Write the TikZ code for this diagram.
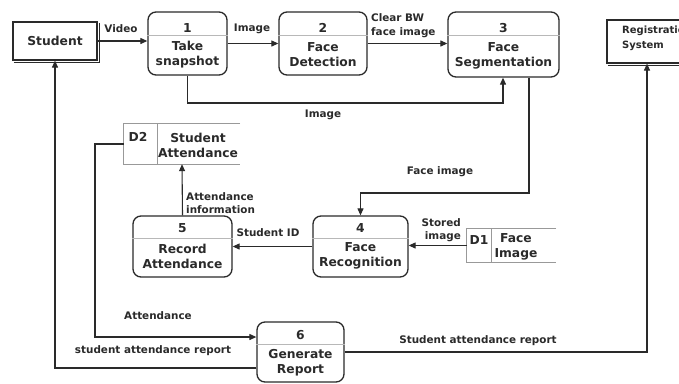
\documentclass[tikz,border=0pt]{standalone}
\usepackage{fontspec}
\setmainfont{DejaVu Sans}
\usetikzlibrary{arrows.meta,calc}
\definecolor{ink}{HTML}{2A2A2A}
\definecolor{divc}{HTML}{B8B8B8}
\newcommand\ptfont{\fontsize{12.3}{15}\selectfont\bfseries}
\newcommand\lbfont{\fontsize{10.4}{13.5}\selectfont\bfseries}
\newcommand\rgfont{\fontsize{10}{15}\selectfont\bfseries}
\tikzset{
  proc/.style={draw=ink, rounded corners=8pt, line width=1.3pt, inner sep=0pt},
  ent/.style={draw=ink, line width=1.2pt, inner sep=0pt},
  store/.style={draw=none, inner sep=0pt},
  storeline/.style={draw=gray!80, line width=0.9pt},
  divline/.style={draw=divc, line width=0.8pt},
  ptext/.style={font=\ptfont, text=ink, align=center, inner sep=0pt},
  lbl/.style={font=\lbfont, text=ink, inner sep=0pt},
  flow/.style={draw=ink, line width=1.1pt, -{Triangle[length=7pt,width=6pt]}},
}
\begin{document}
\begin{tikzpicture}[x=1pt,y=-1pt]
\useasboundingbox (0,0) rectangle (679,383);
\fill[white] (0,0) rectangle (679,383);
\clip (0,0) rectangle (679,383);

% external entities
\node[ent, minimum width=84pt, minimum height=38pt] (stu) at (55,41) {};
\draw[ink, line width=1.2pt] ($(stu.south west)+(1.5,1.5)$) -- ($(stu.south east)+(1.5,1.5)$) -- ($(stu.north east)+(1.5,1.5)$);
\node[ptext] (stut) at (55,41) {Student};

\node[ent, minimum width=93pt, minimum height=43pt] (reg) at (653.5,41.5) {};
\draw[ink, line width=1.2pt] ($(reg.south west)+(1.5,1.5)$) -- ($(reg.south east)+(1.5,1.5)$);
\node[font=\rgfont, text=ink, align=left, anchor=west, inner sep=0pt] (regt) at (622,38) {Registration\\System};

% processes
\node[proc, minimum width=79pt, minimum height=63pt] (p1) at (187.5,43.5) {};
\draw[divline] (p1.west |- 0,35) -- (p1.east |- 0,35);
\node[ptext] (p1n) at (187.5,28) {1};
\node[ptext] (p1t) at (187.5,55) {Take\\snapshot};

\node[proc, minimum width=88pt, minimum height=63pt] (p2) at (323,43.5) {};
\draw[divline] (p2.west |- 0,35) -- (p2.east |- 0,35);
\node[ptext] (p2n) at (323,28) {2};
\node[ptext] (p2t) at (323,55) {Face\\Detection};

\node[proc, minimum width=111pt, minimum height=65pt] (p3) at (503.5,44.5) {};
\draw[divline] (p3.west |- 0,35) -- (p3.east |- 0,35);
\node[ptext] (p3n) at (503.5,28) {3};
\node[ptext] (p3t) at (503.5,56) {Face\\Segmentation};

\node[proc, minimum width=95pt, minimum height=61pt] (p4) at (360.5,246.5) {};
\draw[divline] (p4.west |- 0,238) -- (p4.east |- 0,238);
\node[ptext] (p4n) at (360.5,228) {4};
\node[ptext] (p4t) at (360.5,256) {Face\\Recognition};

\node[proc, minimum width=99pt, minimum height=61pt] (p5) at (182.5,246.5) {};
\draw[divline] (p5.west |- 0,238) -- (p5.east |- 0,238);
\node[ptext] (p5n) at (182.5,228) {5};
\node[ptext] (p5t) at (182.5,256) {Record\\Attendance};

\node[proc, minimum width=87pt, minimum height=60pt] (p6) at (300.5,352) {};
\draw[divline] (p6.west |- 0,344) -- (p6.east |- 0,344);
\node[ptext] (p6n) at (300.5,335) {6};
\node[ptext] (p6t) at (300.5,363) {Generate\\Report};

% data stores
\node[store, minimum width=116pt, minimum height=40pt] (d2) at (182,144) {};
\draw[storeline] (d2.north east) -- (d2.north west) -- (d2.south west) -- (d2.south east);
\draw[storeline] (d2.north west -| 157,0) -- (d2.south west -| 157,0);
\node[ptext] (d2n) at (138,137) {D2};
\node[ptext] (d2t) at (198,145) {Student\\Attendance};

\node[store, minimum width=89pt, minimum height=33pt] (d1) at (511.5,245.5) {};
\draw[storeline] (d1.north east) -- (d1.north west) -- (d1.south west) -- (d1.south east);
\draw[storeline] (d1.north west -| 491,0) -- (d1.south west -| 491,0);
\node[ptext] (d1n) at (479,240) {D1};
\node[ptext] (d1t) at (516,247) {Face\\Image};

% flows
\draw[flow] (stu.east) -- (stu.east -| p1.west);
\node[lbl] (lvideo) at (121,29) {Video};

\draw[flow] (p1.east) -- (p2.west);
\node[lbl] (limg1) at (252,29) {Image};

\draw[flow] (p2.east) -- (p2.east -| p3.west);
\node[lbl, align=left, anchor=west, font=\fontsize{10.4}{14}\selectfont\bfseries] (lclear) at (371,26) {Clear BW\\face image};

\coordinate (c1) at (503,103);
\draw[flow] (p1.south) |- (c1) -- (c1 |- p3.south);
\node[lbl] (limg2) at (323,115) {Image};

\coordinate (c2) at (529,193);
\draw[flow] (p3.south -| c2) -- (c2) -| (p4.north);
\node[lbl] (lface) at (440,172) {Face image};

\draw[flow] (d1.west) -- (d1.west -| p4.east);
\node[lbl, align=right, anchor=east] (lstored) at (461,230) {Stored\\image};

\draw[flow] (p4.west) -- (p5.east);
\node[lbl] (lsid) at (268,233) {Student ID};

\draw[flow] (p5.north) -- (d2.south);
\node[lbl, align=left, anchor=west] (lattinf) at (186,203) {Attendance\\information};

\coordinate (c3) at (95,337);
\draw[flow] (d2.west) -| (c3) -- (c3 -| p6.west);
\node[lbl] (latt) at (158,316) {Attendance};

\coordinate (c4) at (55,368);
\draw[flow] (p6.west |- c4) -- (c4) -- (c4 |- stu.south);
\node[lbl] (lsar1) at (153,351) {student attendance report};

\coordinate (c5) at (647,352);
\draw[flow] (p6.east |- c5) -- (c5) -- (c5 |- reg.south);
\node[lbl] (lsar2) at (478,341) {Student attendance report};
\end{tikzpicture}
\end{document}
